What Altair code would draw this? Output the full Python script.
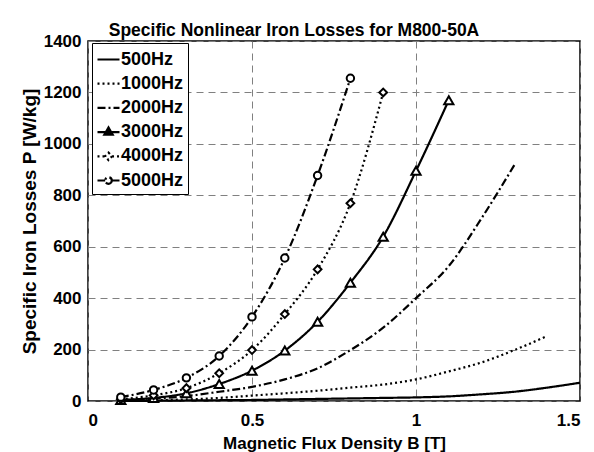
import altair as alt
import pandas as pd

# ---- data ----
series_names = ["500Hz", "1000Hz", "2000Hz", "3000Hz", "4000Hz", "5000Hz"]

B_500 = [0.1, 0.2, 0.3, 0.4, 0.5, 0.6, 0.7, 0.8, 0.9, 1.0, 1.1, 1.2, 1.3, 1.4, 1.5]
P_500 = [0.3, 1, 2, 3, 4, 6, 8, 10, 12, 14, 18, 26, 36, 52, 71]

B_1000 = [0.1, 0.2, 0.3, 0.4, 0.5, 0.6, 0.7, 0.8, 0.9, 1.0, 1.1, 1.2, 1.3, 1.4]
P_1000 = [1, 3, 6, 12, 21, 30, 40, 52, 64, 84, 115, 150, 198, 253]

B_2000 = [0.1, 0.2, 0.3, 0.4, 0.5, 0.6, 0.7, 0.8, 0.9, 1.0, 1.1, 1.2, 1.3]
P_2000 = [3, 9, 19, 36, 55, 84, 127, 198, 285, 400, 525, 711, 918]

B_3000 = [0.1, 0.2, 0.3, 0.4, 0.5, 0.6, 0.7, 0.8, 0.9, 1.0, 1.1]
P_3000 = [4, 12, 30, 66, 118, 196, 308, 460, 639, 895, 1170]

B_4000 = [0.1, 0.2, 0.3, 0.4, 0.5, 0.6, 0.7, 0.8, 0.9]
P_4000 = [7, 22, 50, 108, 198, 338, 512, 769, 1200]

B_5000 = [0.1, 0.2, 0.3, 0.4, 0.5, 0.6, 0.7, 0.8]
P_5000 = [15, 43, 90, 175, 327, 556, 877, 1255]

x_ticks = [0, 0.5, 1, 1.5]
y_ticks = [0, 200, 400, 600, 800, 1000, 1200, 1400]

# ---- build long table ----
rows = []
for name, bs, ps in [
    ("500Hz", B_500, P_500),
    ("1000Hz", B_1000, P_1000),
    ("2000Hz", B_2000, P_2000),
    ("3000Hz", B_3000, P_3000),
    ("4000Hz", B_4000, P_4000),
    ("5000Hz", B_5000, P_5000),
]:
    for b, p in zip(bs, ps):
        rows.append({"series": name, "B": b, "P": p})
df = pd.DataFrame(rows)

FONT = "Liberation Sans"

dash_scale = alt.Scale(
    domain=series_names,
    range=[[1, 0], [2, 3], [8, 3, 2, 3], [1, 0], [2, 3], [8, 3, 2, 3]],
)
shape_scale = alt.Scale(
    domain=series_names,
    range=[
        "M-1,0H1",
        "M-1,0H1",
        "M-1,0H1",
        "M-1,0H1M0,-0.42L0.38,0.24H-0.38ZM0,-0.2L0.17,0.12H-0.17Z",
        "M-1,0H-0.32M0.32,0H1M0,-0.34L0.32,0L0,0.34L-0.32,0Z",
        "M-1,0H-0.3M0.3,0H1M0.3,0A0.3,0.3 0 1,1 -0.3,0A0.3,0.3 0 1,1 0.3,0Z",
    ],
)

leg = alt.Legend(
    title=None,
    orient="none",
    legendX=4,
    legendY=2,
    strokeColor="black",
    fillColor="white",
    padding=4,
    rowPadding=2.2,
    symbolSize=484,
    symbolStrokeWidth=2.2,
    symbolStrokeColor="black",
    symbolFillColor="white",
    symbolOpacity=1,
    labelFont=FONT,
    labelFontSize=18,
    labelFontWeight="bold",
    labelColor="black",
    labelOffset=0,
    cornerRadius=0,
)

x_enc = alt.X(
    "B:Q",
    scale=alt.Scale(domain=[0, 1.5], nice=False),
    axis=alt.Axis(values=x_ticks, format="~g", title="Magnetic Flux Density B [T]"),
)
y_enc = alt.Y(
    "P:Q",
    scale=alt.Scale(domain=[0, 1400], nice=False),
    axis=alt.Axis(values=y_ticks, format="d", title="Specific Iron Losses P [W/kg]"),
)

lines = alt.Chart(df).mark_line(color="black", strokeWidth=2.2, interpolate="monotone").encode(
    x=x_enc,
    y=y_enc,
    strokeDash=alt.StrokeDash("series:N", scale=dash_scale, legend=leg),
)

def markers(name, shape, size):
    return (
        alt.Chart(df)
        .transform_filter(alt.datum.series == name)
        .mark_point(shape=shape, size=size, filled=True, fill="white",
                    stroke="black", strokeWidth=2, opacity=1)
        .encode(x=x_enc, y=y_enc)
    )

tri = markers("3000Hz", "triangle-up", 85)
dia = markers("4000Hz", "diamond", 60)
circ = markers("5000Hz", "circle", 55)

legend_layer = (
    alt.Chart(df)
    .transform_filter("false")
    .mark_point(stroke="black", strokeWidth=2, opacity=1)
    .encode(
        x=x_enc,
        y=y_enc,
        shape=alt.Shape("series:N", scale=shape_scale, legend=leg),
        strokeDash=alt.StrokeDash("series:N", scale=dash_scale, legend=leg),
    )
)

chart = (
    alt.layer(lines, tri, dia, circ, legend_layer)
    .properties(
        width=492,
        height=360,
        autosize="none",
        padding={"left": 88, "top": 41, "right": 14, "bottom": 51},
        title=alt.TitleParams(
            "Specific Nonlinear Iron Losses for M800-50A",
            font=FONT,
            fontSize=17.5,
            fontWeight="bold",
            color="black",
            anchor="middle",
            dx=-40,
            offset=-7,
        ),
    )
    .configure_view(stroke="black", strokeWidth=1.5)
    .configure_axis(
        labelFont=FONT,
        labelFontSize=17,
        labelFontWeight="bold",
        labelColor="black",
        titleFont=FONT,
        titleFontSize=17,
        titleFontWeight="bold",
        titleColor="black",
        ticks=False,
        domain=False,
        grid=True,
        gridColor="#808080",
        gridDash=[7, 5],
        gridWidth=1,
        gridOpacity=1,
    )
    .configure_axisX(labelPadding=11, titlePadding=7)
    .configure_axisY(labelPadding=7, titlePadding=4, titleFontSize=19)
)

chart.save("out.html", embed_options={"renderer": "svg", "actions": False})
